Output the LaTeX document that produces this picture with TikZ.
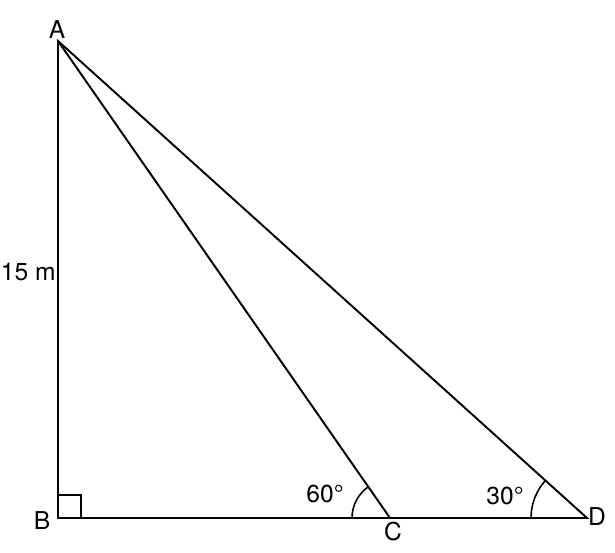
\documentclass[tikz,border=0pt]{standalone}
\usepackage{fontspec}
\setmainfont{TeX Gyre Heros}
\usetikzlibrary{angles}

\begin{document}
\begin{tikzpicture}[
    x=0.02cm, y=0.02cm,
    side/.style={line width=1.1pt, black},
    tag/.style={font=\fontsize{14}{16}\selectfont, inner sep=0pt},
    rightangle/.style={line width=0.8pt, black},
    anglearc/.style={draw, line width=0.9pt}
]
    \useasboundingbox (0,0) rectangle (615,553);
    \coordinate (A) at (58,512);
    \coordinate (B) at (58,35);
    \coordinate (C) at (390,35);
    \coordinate (D) at (587,35);
    \node[tag] (la) at (57,523) {A};
    \node[tag] (lb) at (42,32) {B};
    \node[tag] (lc) at (393,21) {C};
    \node[tag] (ld) at (597,36) {D};
    \node[tag, anchor=east] (lh) at (56,281) {15 m};
    \node[tag] (l60) at (325,59) {60°};
    \node[tag] (l30) at (505,57) {30°};
    \draw[side] (A) -- (B) -- (D) -- cycle;
    \draw[side] (A) -- (C);
    \draw[rightangle] ([yshift=23*0.02cm]B) -| ([xshift=23*0.02cm]B);
    \pic[anglearc, angle radius=0.76cm] {angle=A--C--B};
    \pic[anglearc, angle radius=1.12cm] {angle=A--D--C};
\end{tikzpicture}
\end{document}
